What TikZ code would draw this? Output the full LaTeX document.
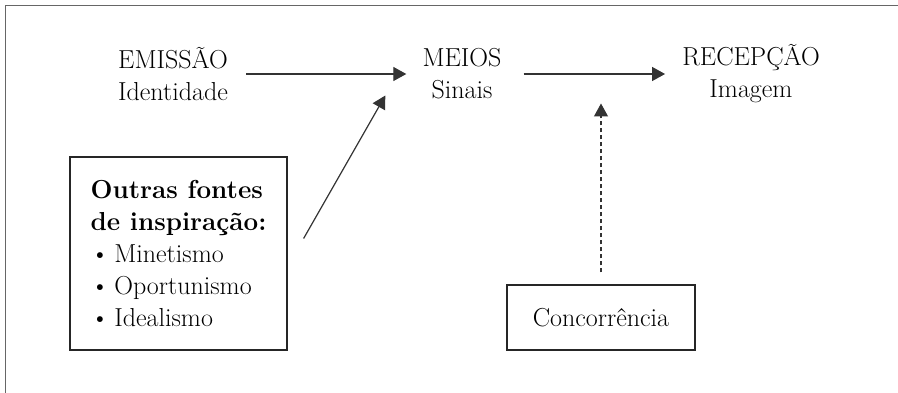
\documentclass[tikz,border=0pt]{standalone}
\usetikzlibrary{positioning,arrows.meta}
\begin{document}
\begin{tikzpicture}[x=1pt,y=-1pt,
        rotulo/.style={align=center,font=\fontsize{26}{32}\selectfont,inner sep=0pt},
        caixa/.style={draw=black!85,line width=1.2pt,font=\fontsize{26}{32}\selectfont},
        seta/.style={draw=black!80,line width=1.2pt,-{Triangle[length=13pt,width=14pt]}}]
    \useasboundingbox (0,0) rectangle (898,393);
    % moldura
    \draw[black!60,line width=1pt] (5,393) -- (5,6) -- (898,6);
    % etapas
    \node[rotulo] (emissao) at (173,74) {EMISSÃO\\Identidade};
    \node[rotulo] (meios) at (462,74) {MEIOS\\Sinais};
    \node[rotulo] (recepcao) at (751,74) {RECEPÇÃO\\Imagem};
    \draw[seta,shorten <=18pt,shorten >=16pt] (emissao) -- (meios);
    \draw[seta,shorten <=22pt,shorten >=17pt] (meios) -- (recepcao);
    % caixas
    \node[caixa,minimum width=217pt,minimum height=193pt,align=left] (fontes) at (178.5,253.5)
        {\textbf{Outras fontes}\\\textbf{de inspiração:}\\\textbullet\hspace{5pt}Minetismo\\\textbullet\hspace{5pt}Oportunismo\\\textbullet\hspace{5pt}Idealismo};
    \node[caixa,minimum width=188pt,minimum height=65pt] (concorrencia) at (601,317.5) {Concorrência};
    \draw[seta] ([shift={(16,-15)}]fontes.east) -- ([shift={(-37,-4)}]meios.south west);
    \draw[seta,dash pattern=on 4pt off 3pt,shorten <=12pt,shorten >=4pt] (concorrencia.north) -- (concorrencia.north |- meios.south);
\end{tikzpicture}
\end{document}
